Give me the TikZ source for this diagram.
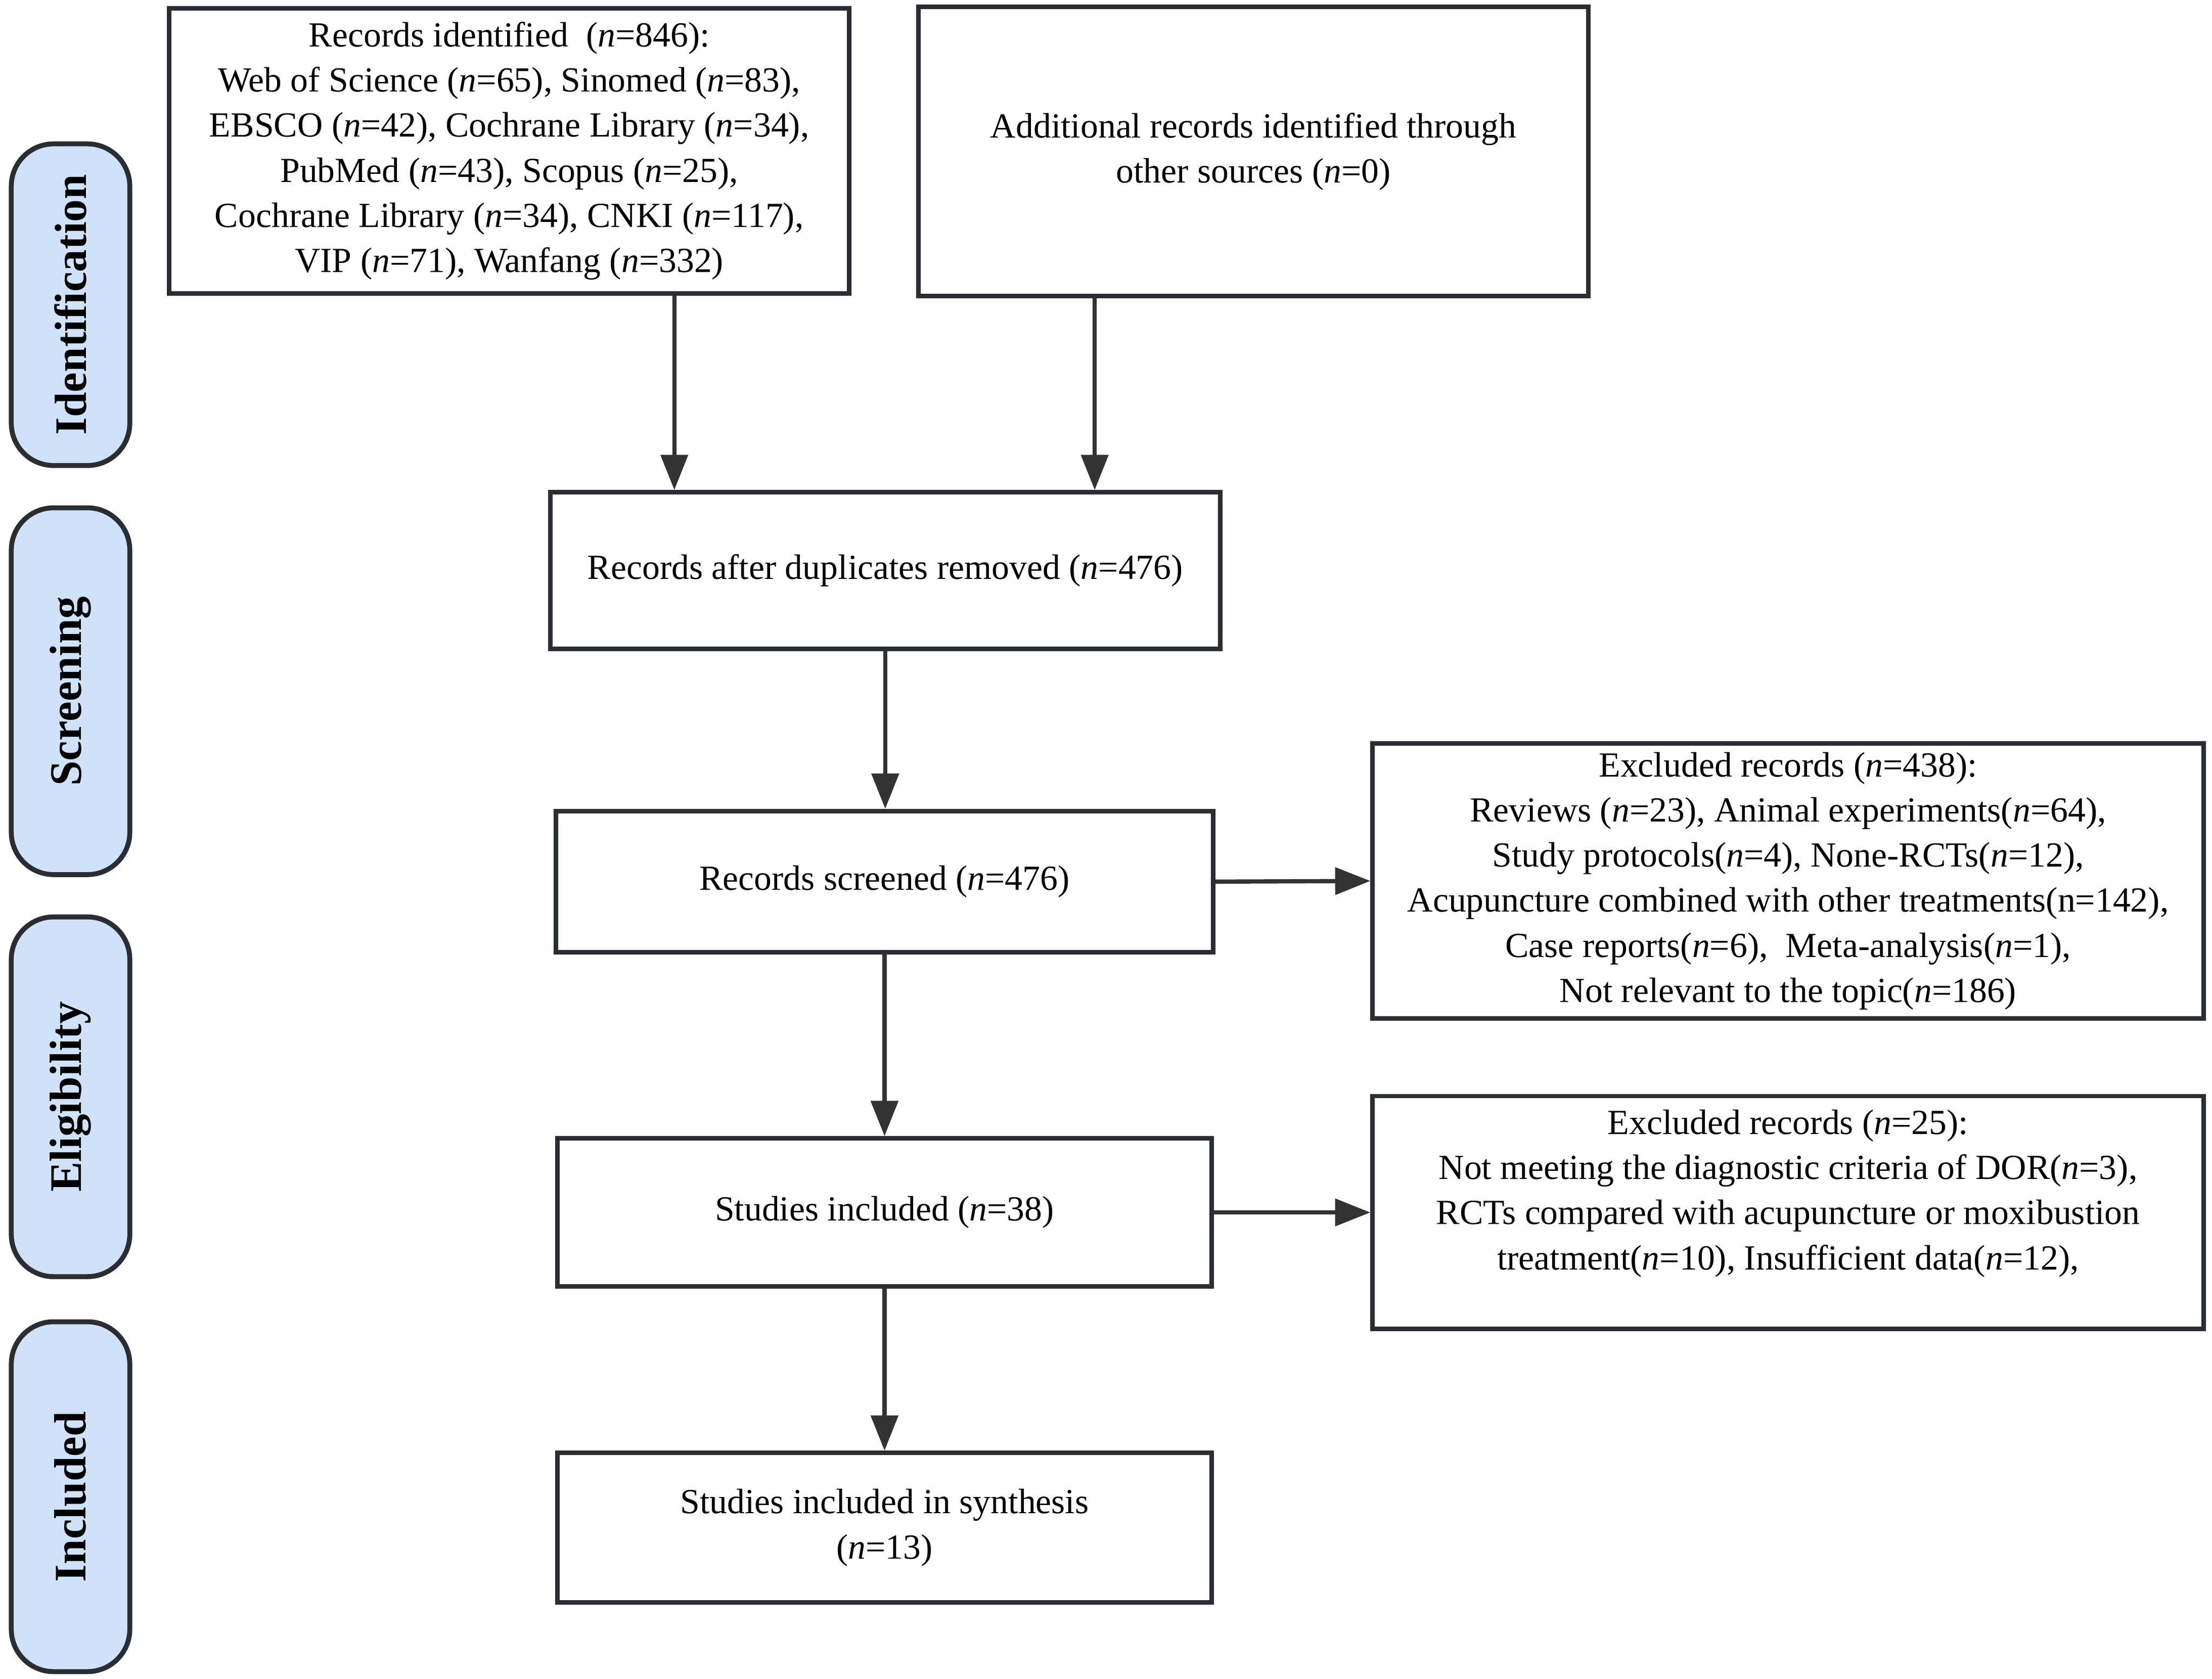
\documentclass[tikz,border=0pt]{standalone}
\usepackage{fontspec}
\setmainfont{Liberation Serif}
\usetikzlibrary{arrows.meta}
\definecolor{bord}{HTML}{2A2E33}
\definecolor{sidefill}{HTML}{CFE2FA}
\definecolor{arr}{HTML}{333333}
\begin{document}
\begin{tikzpicture}[x=1pt,y=-1pt,
  box/.style={draw=bord, line width=3.2pt, fill=white, align=center, inner sep=0pt, font=\fontsize{25}{32}\selectfont},
  plaintext/.style={align=center, inner sep=0pt, font=\fontsize{25}{32}\selectfont},
  side/.style={draw=bord, line width=3.5pt, fill=sidefill, rounded corners=30pt, inner sep=0pt, minimum height=84pt, rotate=90, font=\bfseries\fontsize{32}{36}\selectfont},
  arrowline/.style={draw=arr, line width=3pt, -{Triangle[length=25pt,width=19pt]}},
]
\useasboundingbox (0,0) rectangle (1568,1190);

% side labels
\node[side, minimum width=228pt] (s1) at (50,216) {Identification};
\node[side, minimum width=260pt] (s2) at (50,490) {Screening};
\node[side, minimum width=255pt] (s3) at (50,777.5) {Eligibility};
\node[side, minimum width=248pt] (s4) at (50,1061) {Included};

% boxes
\node[box, minimum width=482pt, minimum height=202pt] (A) at (361,107) {Records identified\ \ (\textit{n}=846):\hspace{0.6em}\\ Web of Science (\textit{n}=65), Sinomed (\textit{n}=83),\\ EBSCO (\textit{n}=42), Cochrane Library (\textit{n}=34),\\ PubMed (\textit{n}=43), Scopus (\textit{n}=25),\\ Cochrane Library (\textit{n}=34), CNKI (\textit{n}=117),\\ VIP (\textit{n}=71), Wanfang (\textit{n}=332)};
\node[box, minimum width=475pt, minimum height=205pt] (B) at (888.5,107.5) {Additional records identified through\\ other sources (\textit{n}=0)};
\node[box, minimum width=475pt, minimum height=111pt] (C) at (627.5,404.5) {Records after duplicates removed (\textit{n}=476)};
\node[box, minimum width=466pt, minimum height=100pt] (D) at (627,625) {Records screened (\textit{n}=476)};
\node[box, minimum width=589pt, minimum height=195pt] (E) at (1267.5,624.5) {Excluded records (\textit{n}=438):\\ Reviews (\textit{n}=23), Animal experiments(\textit{n}=64),\\ Study protocols(\textit{n}=4), None-RCTs(\textit{n}=12),\\ Acupuncture combined with other treatments(n=142),\\ Case reports(\textit{n}=6),\ \ Meta-analysis(\textit{n}=1),\\ Not relevant to the topic(\textit{n}=186)};
\node[box, minimum width=464pt, minimum height=105pt] (F) at (627,859.5) {Studies included (\textit{n}=38)};
\node[box, minimum width=589pt, minimum height=165pt] (G) at (1267.5,859.5) {};
\node[plaintext] (Gt) at (1267.5,846) {Excluded records (\textit{n}=25):\\ Not meeting the diagnostic criteria of DOR(\textit{n}=3),\\ RCTs compared with acupuncture or moxibustion\\ treatment(\textit{n}=10), Insufficient data(\textit{n}=12),};
\node[box, minimum width=464pt, minimum height=106pt] (H) at (627,1083) {Studies included in synthesis\\ (\textit{n}=13)};

% connectors
\draw[arrowline] ([xshift=117pt]A.south) -- ([xshift=-149.5pt]C.north);
\draw[arrowline] ([xshift=-112.5pt]B.south) -- ([xshift=148.5pt]C.north);
\draw[arrowline] (C.south) -- (C.south |- D.north);
\draw[arrowline] (D.east) -- (E.west);
\draw[arrowline] (D.south) -- (F.north);
\draw[arrowline] (F.east) -- (G.west);
\draw[arrowline] (F.south) -- (H.north);
\end{tikzpicture}
\end{document}
